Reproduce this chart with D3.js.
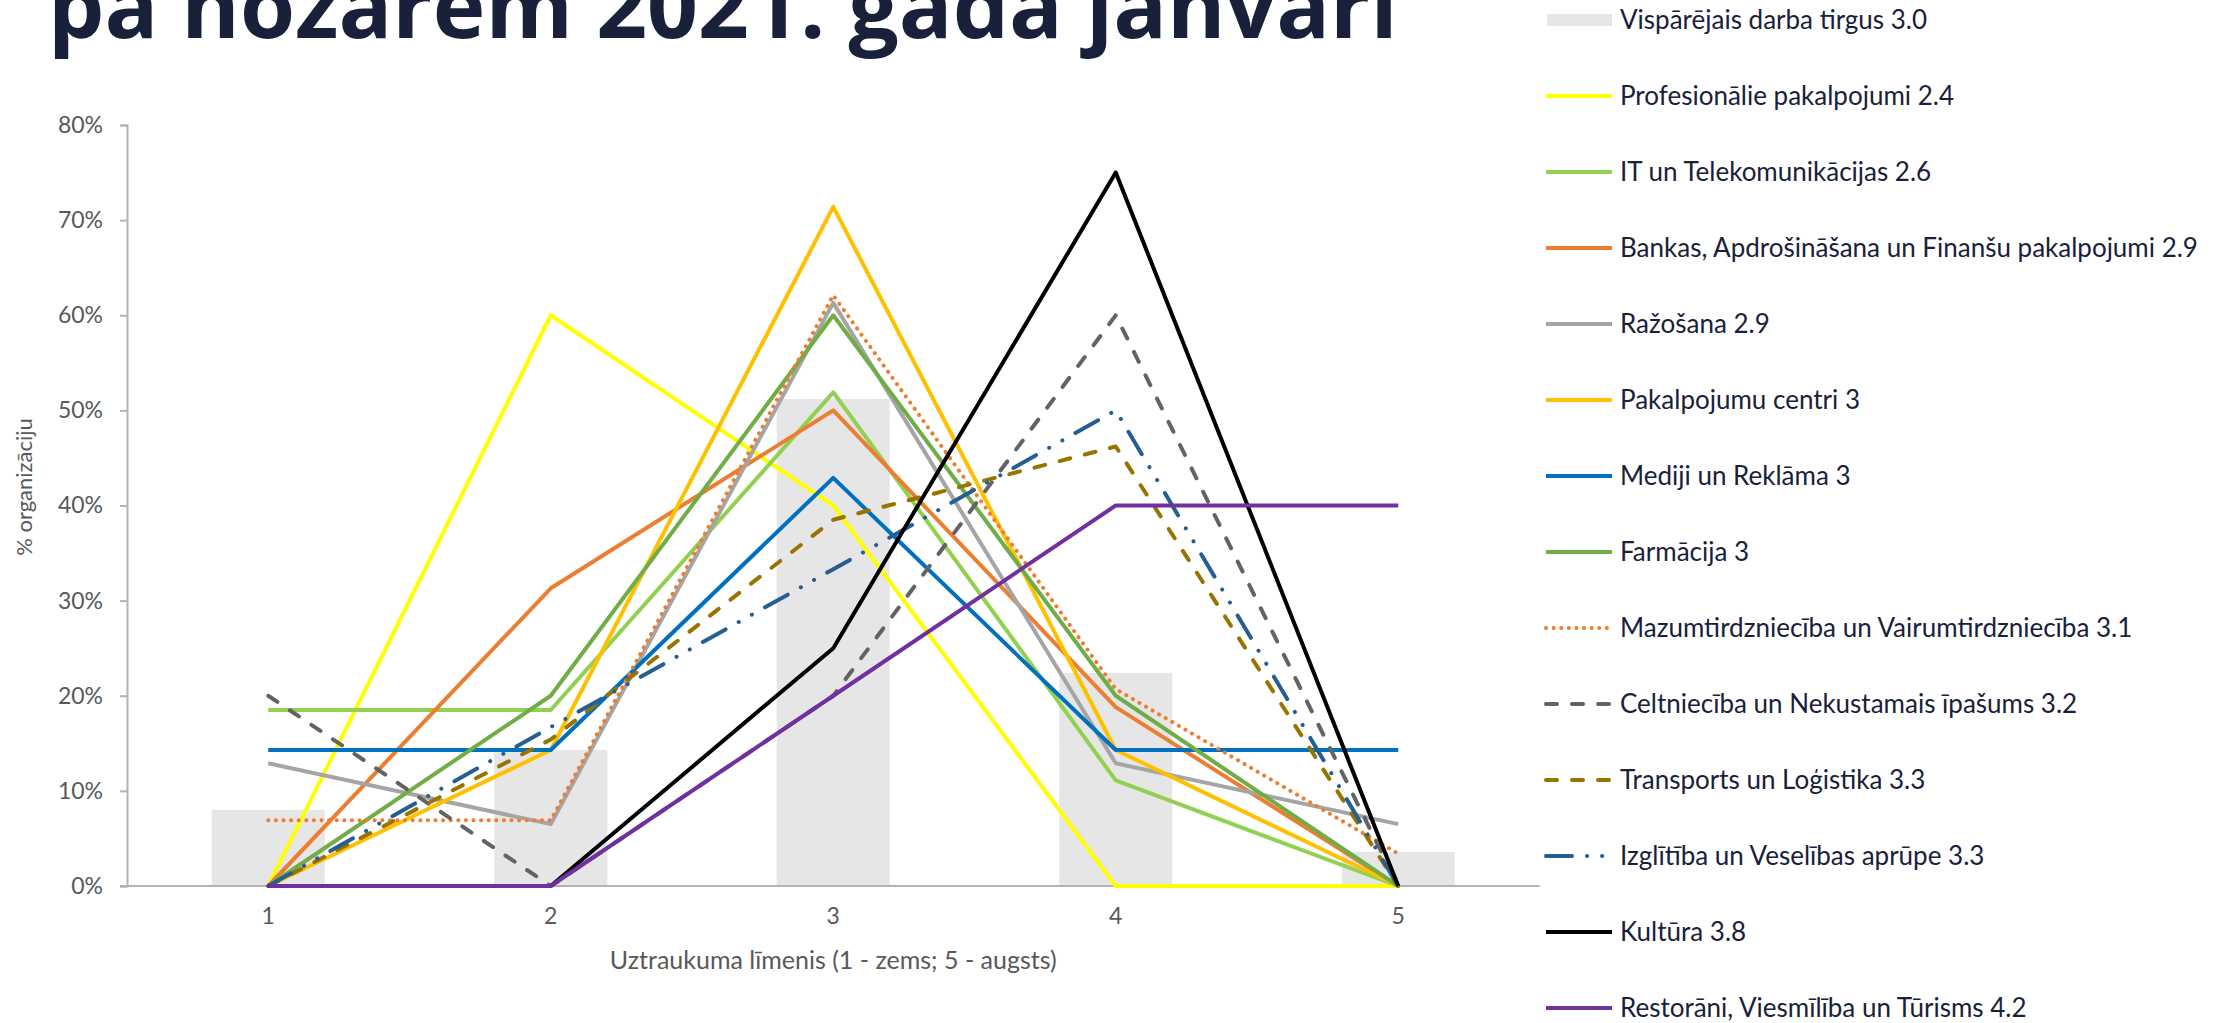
<!DOCTYPE html>
<html>
<head>
<meta charset="utf-8">
<script src="https://cdn.jsdelivr.net/npm/d3@7"></script>
<style>
  body { margin: 0; background: #fff; }
  svg { display: block; }
</style>
</head>
<body>
<div id="chart"></div>
<script>
// categories: worry level 1..5
const levels = ["1", "2", "3", "4", "5"];
const yTicks = [0, 10, 20, 30, 40, 50, 60, 70, 80];

// overall labour market (grey bars), % of organisations
const barName = "Vispārējais darba tirgus 3.0";
const marketTotal = [8.0, 14.3, 51.2, 22.4, 3.6];

// sectors (lines), % of organisations
const profesionalie = [0, 60, 40, 0, 0];
const itTelekom = [18.5, 18.5, 51.9, 11.1, 0];
const bankas = [0, 31.3, 50, 18.8, 0];
const razosana = [12.9, 6.5, 61.3, 12.9, 6.5];
const pakalpojumuCentri = [0, 14.3, 71.4, 14.3, 0];
const mediji = [14.3, 14.3, 42.9, 14.3, 14.3];
const farmacija = [0, 20, 60, 20, 0];
const mazumtirdznieciba = [6.9, 6.9, 62.1, 20.7, 3.4];
const celtnieciba = [20, 0, 20, 60, 0];
const transports = [0, 15.4, 38.5, 46.2, 0];
const izglitiba = [0, 16.7, 33.3, 50, 0];
const kultura = [0, 0, 25, 75, 0];
const restorani = [0, 0, 20, 40, 40];

const seriesNames = [
  "Profesionālie pakalpojumi 2.4",
  "IT un Telekomunikācijas 2.6",
  "Bankas, Apdrošināšana un Finanšu pakalpojumi 2.9",
  "Ražošana 2.9",
  "Pakalpojumu centri 3",
  "Mediji un Reklāma 3",
  "Farmācija 3",
  "Mazumtirdzniecība un Vairumtirdzniecība 3.1",
  "Celtniecība un Nekustamais īpašums 3.2",
  "Transports un Loģistika 3.3",
  "Izglītība un Veselības aprūpe 3.3",
  "Kultūra 3.8",
  "Restorāni, Viesmīlība un Tūrisms 4.2"
];
const seriesValues = [
  profesionalie, itTelekom, bankas, razosana, pakalpojumuCentri, mediji,
  farmacija, mazumtirdznieciba, celtnieciba, transports, izglitiba, kultura, restorani
];

// line look per series
const seriesStyles = [
  { color: "#FFFF00", dash: null },
  { color: "#92D050", dash: null },
  { color: "#ED7D31", dash: null },
  { color: "#A5A5A5", dash: null },
  { color: "#FFC000", dash: null },
  { color: "#0070C0", dash: null },
  { color: "#70AD47", dash: null },
  { color: "#ED7D31", dash: "0.1 7.5" },
  { color: "#636363", dash: "11 15" },
  { color: "#997300", dash: "11 15" },
  { color: "#255E91", dash: "26 15 0.1 15 0.1 15" },
  { color: "#000000", dash: null },
  { color: "#7030A0", dash: null }
];

const width = 2215, height = 1023;
const plot = { left: 127, right: 1539.5, top: 125, bottom: 886 };
const textGray = "#595959";
const navy = "#19213A";
const lineW = 4;

const svg = d3.select("#chart")
  .append("svg")
  .attr("width", width)
  .attr("height", height)
  .style("background", "#fff");

// title (only its lower part is visible, like the reference)
const title = svg.append("text")
  .attr("x", 0)
  .attr("y", 0)
  .attr("font-family", "'Open Sans', sans-serif")
  .attr("font-weight", 700)
  .attr("font-size", 88)
  .attr("fill", navy)
  .text("pa nozarēm 2021. gada janvārī");
const titleW = title.node().getComputedTextLength();
title.attr("transform", `translate(48,38) scale(${1350 / titleW},1)`);

// scales
const x = d3.scaleBand()
  .domain(levels)
  .range([plot.left, plot.right])
  .paddingInner(0.6)
  .paddingOuter(0.3);
const xc = d => x(d) + x.bandwidth() / 2;

const y = d3.scaleLinear()
  .domain([0, 80])
  .range([plot.bottom, plot.top]);

// grey bars
svg.append("g")
  .selectAll("rect")
  .data(marketTotal)
  .join("rect")
  .attr("x", (d, i) => x(levels[i]))
  .attr("y", d => y(d))
  .attr("width", x.bandwidth())
  .attr("height", d => y(0) - y(d))
  .attr("fill", "#E6E6E6");

// y axis
const yAxis = svg.append("g")
  .attr("transform", `translate(${plot.left},0)`)
  .call(d3.axisLeft(y).tickValues(yTicks).tickSize(7).tickPadding(17)
    .tickFormat(d => d + "%"));
yAxis.select(".domain").attr("stroke", "#B3B3B3").attr("stroke-width", 2);
yAxis.selectAll(".tick line").attr("stroke", "#B3B3B3").attr("stroke-width", 2);
yAxis.selectAll(".tick text")
  .attr("font-family", "Lato, sans-serif")
  .attr("font-size", 23)
  .attr("fill", textGray);

// x axis
const xAxis = svg.append("g")
  .attr("transform", `translate(0,${plot.bottom})`)
  .call(d3.axisBottom(x).tickSize(0).tickPadding(22));
xAxis.select(".domain").attr("stroke", "#B3B3B3").attr("stroke-width", 2)
  .attr("d", `M${plot.left - 7},0H${plot.right}`);
xAxis.selectAll(".tick text")
  .attr("font-family", "Lato, sans-serif")
  .attr("font-size", 23)
  .attr("fill", textGray);

// axis titles
svg.append("text")
  .attr("x", (plot.left + plot.right) / 2)
  .attr("y", 969)
  .attr("text-anchor", "middle")
  .attr("font-family", "Lato, sans-serif")
  .attr("font-size", 25)
  .attr("fill", textGray)
  .text("Uztraukuma līmenis (1 - zems; 5 - augsts)");

svg.append("text")
  .attr("transform", "translate(32,487) rotate(-90)")
  .attr("text-anchor", "middle")
  .attr("font-family", "Lato, sans-serif")
  .attr("font-size", 22)
  .attr("fill", textGray)
  .text("% organizāciju");

// lines
const line = d3.line()
  .x((d, i) => xc(levels[i]))
  .y(d => y(d));

svg.append("g")
  .attr("fill", "none")
  .attr("stroke-width", lineW)
  .attr("stroke-linejoin", "round")
  .selectAll("path")
  .data(seriesValues)
  .join("path")
  .attr("stroke", (d, i) => seriesStyles[i].color)
  .attr("stroke-dasharray", (d, i) => seriesStyles[i].dash)
  .attr("stroke-linecap", (d, i) => seriesStyles[i].dash ? "round" : "butt")
  .attr("d", line);

// legend
const legendX = 1545, legendTop = 20, legendStep = 76;
const legend = svg.append("g");

legend.append("rect")
  .attr("x", legendX + 2)
  .attr("y", legendTop - 6)
  .attr("width", 65)
  .attr("height", 12)
  .attr("fill", "#E6E6E6");

legend.append("text")
  .attr("x", 1620)
  .attr("y", legendTop)
  .attr("dy", "0.36em")
  .attr("font-family", "Lato, sans-serif")
  .attr("font-size", 26)
  .attr("fill", navy)
  .text(barName);

const items = legend.selectAll("g.item")
  .data(seriesNames)
  .join("g")
  .attr("class", "item")
  .attr("transform", (d, i) => `translate(0,${legendTop + (i + 1) * legendStep})`);

items.append("line")
  .attr("x1", legendX + 1)
  .attr("x2", legendX + 67)
  .attr("stroke-width", lineW)
  .attr("stroke", (d, i) => seriesStyles[i].color)
  .attr("stroke-dasharray", (d, i) => seriesStyles[i].dash)
  .attr("stroke-linecap", (d, i) => seriesStyles[i].dash ? "round" : "butt");

items.append("text")
  .attr("x", 1620)
  .attr("dy", "0.36em")
  .attr("font-family", "Lato, sans-serif")
  .attr("font-size", 26)
  .attr("fill", navy)
  .text(d => d);
</script>
</body>
</html>
